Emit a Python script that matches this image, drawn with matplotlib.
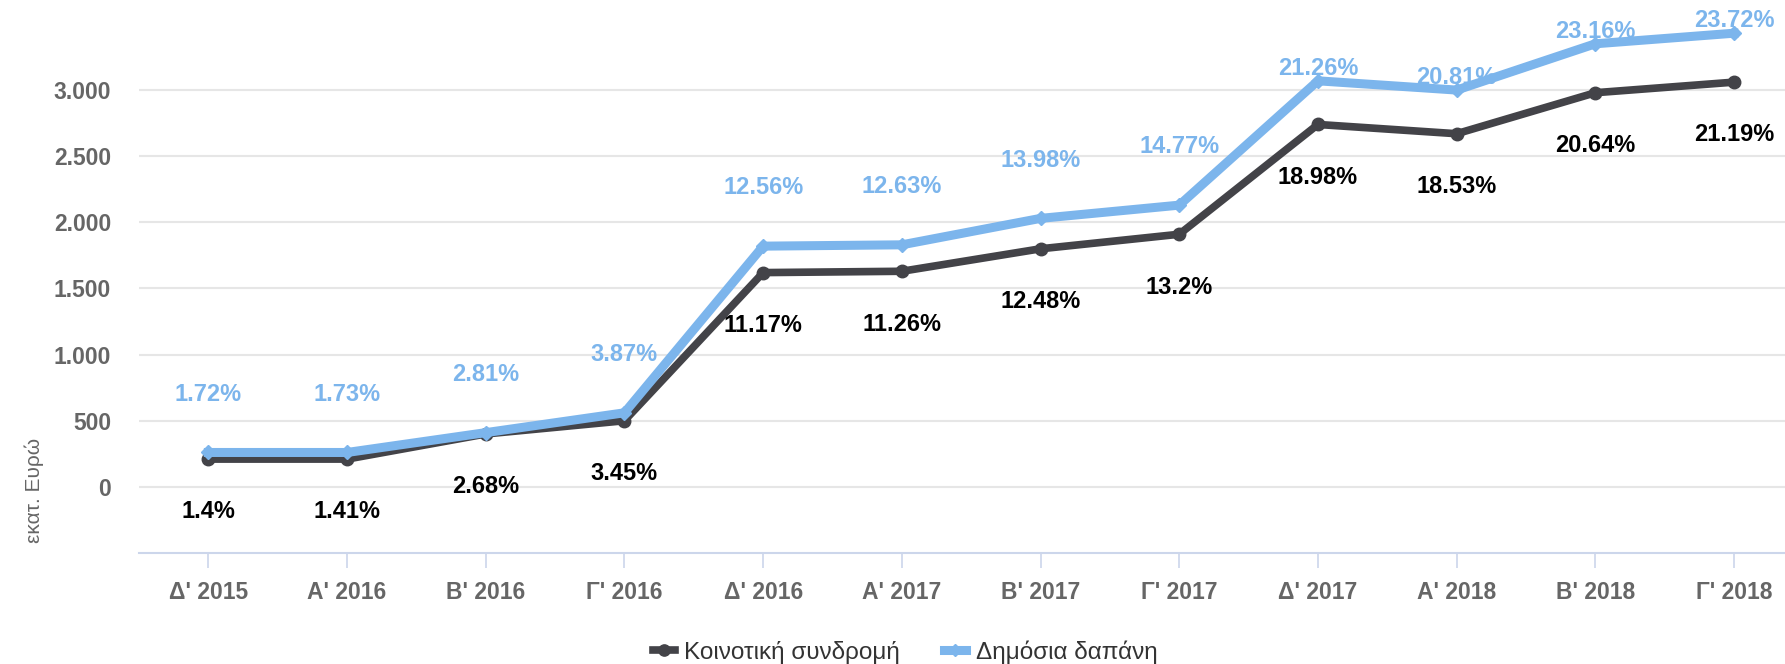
import matplotlib
matplotlib.use('Agg')
import matplotlib.pyplot as plt
from matplotlib.ticker import FuncFormatter

plt.rcParams['font.family'] = ['Liberation Sans', 'DejaVu Sans']

quarters = ["Δ' 2015", "Α' 2016", "Β' 2016", "Γ' 2016", "Δ' 2016", "Α' 2017",
            "Β' 2017", "Γ' 2017", "Δ' 2017", "Α' 2018", "Β' 2018", "Γ' 2018"]

# εκατ. Ευρώ
community = [210, 210, 400, 500, 1620, 1630, 1800, 1910, 2740, 2670, 2980, 3060]
public = [260, 260, 410, 560, 1820, 1830, 2030, 2130, 3070, 3000, 3350, 3430]

community_pct = [1.4, 1.41, 2.68, 3.45, 11.17, 11.26, 12.48, 13.2, 18.98, 18.53, 20.64, 21.19]
public_pct = [1.72, 1.73, 2.81, 3.87, 12.56, 12.63, 13.98, 14.77, 21.26, 20.81, 23.16, 23.72]

BLACK = '#434348'
BLUE = '#7cb5ec'
GREY = '#666666'

W, H = 1785, 664
fig = plt.figure(figsize=(W / 100, H / 100), dpi=100)
left, bottom = 139 / W, 111 / H
ax = fig.add_axes([left, bottom, 1 - left, 1 - bottom])

x = list(range(len(quarters)))
ax.plot(x, community, color=BLACK, lw=5.5, marker='o', ms=9,
        solid_joinstyle='round', label='Κοινοτική συνδρομή', zorder=3)
ax.plot(x, public, color=BLUE, lw=6.5, marker='D', ms=7,
        solid_joinstyle='round', label='Δημόσια δαπάνη', zorder=4)

# data labels: black below, blue above (pushed down near the top edge)
for xi, v, p in zip(x, community, community_pct):
    ax.annotate(f'{p:g}%', (xi, v), xytext=(0, -38), textcoords='offset points',
                ha='center', va='center', fontsize=17, fontweight='bold',
                color='black', zorder=5)
for xi, v, p in zip(x, public, public_pct):
    dy = 42 if v < 2900 else 9
    ax.annotate(f'{p:g}%', (xi, v), xytext=(0, dy), textcoords='offset points',
                ha='center', va='center', fontsize=17, fontweight='bold',
                color=BLUE, zorder=5)

ax.set_xlim(-0.5, (W - 139) / 138.7 - 0.5)
ax.set_ylim(-500, 3681)
ax.set_yticks(range(0, 3001, 500))
ax.yaxis.set_major_formatter(FuncFormatter(lambda v, _: f'{int(v):,}'.replace(',', '.')))
ax.set_xticks(x)
ax.set_xticklabels(quarters)

ax.grid(axis='y', color='#e6e6e6', lw=1.5)
ax.set_axisbelow(True)
for s in ['top', 'right', 'left']:
    ax.spines[s].set_visible(False)
ax.spines['bottom'].set_color('#ccd6eb')
ax.spines['bottom'].set_linewidth(1.5)

ax.tick_params(axis='y', length=0, pad=20, labelsize=16.5, labelcolor=GREY)
ax.tick_params(axis='x', length=11, width=1.2, color='#ccd6eb', pad=9,
               labelsize=16.5, labelcolor=GREY)
for lab in ax.get_xticklabels() + ax.get_yticklabels():
    lab.set_fontweight('bold')

fig.text(34 / W, 1 - 490 / H, 'εκατ. Ευρώ', rotation=90, ha='center', va='center',
         fontsize=15, color=GREY)

fig.legend(loc='center', bbox_to_anchor=(905 / W, 1 - 652 / H), ncol=2, frameon=False,
           fontsize=17.5, handlelength=0.9, handletextpad=0.4, columnspacing=1.8,
           labelcolor='#333333', markerscale=0.9)

fig.savefig('out.png', dpi=100)
